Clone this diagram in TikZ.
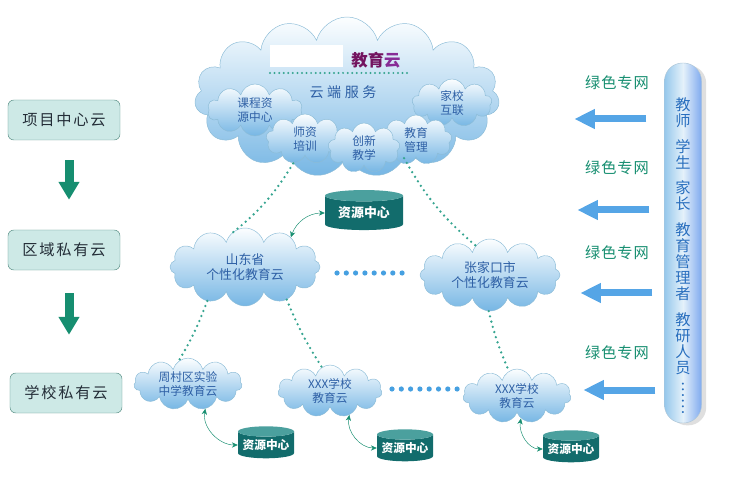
\documentclass[tikz,border=0pt]{standalone}
\usepackage{fontspec}
\setmainfont{Noto Sans CJK SC}
\usetikzlibrary{shapes.symbols,shapes.geometric,arrows.meta,shadows}
\definecolor{cloudtop}{RGB}{252,254,255}
\definecolor{cloudbot}{RGB}{118,182,228}
\definecolor{cloudline}{RGB}{140,188,215}
\definecolor{cloudtext}{RGB}{45,95,165}
\definecolor{tealdark}{RGB}{18,108,108}
\definecolor{teallight}{RGB}{75,160,158}
\definecolor{netgreen}{RGB}{22,142,112}
\definecolor{dotgreen}{RGB}{55,165,145}
\definecolor{arrowblue}{RGB}{85,165,230}
\definecolor{dotblue}{RGB}{70,160,225}
\definecolor{boxfill}{RGB}{205,233,230}
\definecolor{boxline}{RGB}{90,145,135}
\definecolor{boxtext}{RGB}{35,45,55}
\definecolor{titlepurple}{RGB}{115,20,95}
\definecolor{titleviolet}{RGB}{135,45,150}
\definecolor{pillblue}{RGB}{150,200,236}
\definecolor{pilltext}{RGB}{40,110,190}
\begin{document}
\begin{tikzpicture}[x=0.03cm,y=0.03cm,
  yun/.style={cloud, cloud puffs=#1, cloud ignores aspect, draw=cloudline,
    top color=cloudtop, bottom color=cloudbot, text=cloudtext, align=center,
    inner sep=0pt, font=\fontsize{10}{12}\selectfont},
  yun/.default=11,
  kuang/.style={draw=boxline, fill=boxfill, rounded corners=5pt, text=boxtext,
    minimum width=3.36cm, minimum height=1.2cm,
    font=\fontsize{13}{15}\selectfont\addfontfeatures{LetterSpace=12}},
  ziyuan/.style={cylinder, shape border rotate=90, aspect=0.22,
    cylinder uses custom fill, cylinder body fill=tealdark,
    cylinder end fill=teallight, text=white, inner sep=0pt,
    font=\bfseries\fontsize{10}{12}\selectfont},
  dian/.style={draw=dotgreen, line width=2.2pt, line cap=round,
    dash pattern=on 0pt off 4.6pt},
  shuang/.style={draw=netgreen, thin,
    {Stealth[length=5pt,width=4.5pt]}-{Stealth[length=5pt,width=4.5pt]}},
  xiajian/.style={draw=netgreen, line width=0.27cm,
    -{Triangle[length=0.54cm,width=0.6cm]}},
  lanjian/.style={draw=arrowblue, line width=0.21cm,
    -{Triangle[length=0.62cm,width=0.56cm]}},
  zhuanwang/.style={text=netgreen,
    font=\fontsize{13}{15}\selectfont\addfontfeatures{LetterSpace=6}}
]
\useasboundingbox (0,0) rectangle (731,-488);

% left column
\node[kuang] (xm) at (64,-120) {项目中心云};
\node[kuang] (qy) at (64,-250) {区域私有云};
\node[kuang] (xx) at (66,-393) {学校私有云};
\draw[xiajian, shorten <=0.6cm, shorten >=0.9cm] ([xshift=0.15cm]xm.south) -- ([xshift=0.15cm]qy.north);
\draw[xiajian, shorten <=0.69cm, shorten >=1.14cm] ([xshift=0.15cm]qy.south) -- ([xshift=0.09cm]xx.north);

% top cloud
\node[yun=15, minimum width=9.15cm, minimum height=4.8cm] (jyy) at (347,-97) {};
\fill[white] (270,-45) rectangle (343,-67);
\node[font=\bfseries\fontsize{14}{16}\selectfont] (biaoti) at (376,-60)
  {\textcolor{titlepurple}{教育}\textcolor{titleviolet}{云}};
\draw[dian, line width=1.9pt, dash pattern=on 0pt off 3.9pt] (270,-73) -- (410,-73);
\node[text=cloudtext, font=\fontsize{12}{14}\selectfont\addfontfeatures{LetterSpace=25}] (yd) at (343,-92) {云端服务};
\node[yun=10, minimum width=2.85cm, minimum height=1.56cm] (kc) at (255,-110) {课程资\\源中心};
\node[yun=9, minimum width=2.4cm, minimum height=1.44cm] (jx) at (452,-103) {家校\\互联};
\node[yun=9, minimum width=2.34cm, minimum height=1.5cm] (sz) at (305,-139) {师资\\培训};
\node[yun=9, minimum width=2.16cm, minimum height=1.5cm] (gl) at (416,-140) {教育\\管理};
\node[yun=9, minimum width=2.16cm, minimum height=1.5cm] (cx) at (364,-148) {创新\\教学};

% regional clouds
\node[ziyuan, minimum width=2.34cm, minimum height=1.2cm, font=\bfseries\fontsize{11}{13}\selectfont] (zy0) at (364,-213) {资源中心};
\node[yun=12, minimum width=4.5cm, minimum height=2.34cm, font=\fontsize{11}{13}\selectfont] (sd) at (245,-267) {山东省\\个性化教育云};
\node[yun=12, minimum width=4.2cm, minimum height=2.16cm, font=\fontsize{11}{13}\selectfont] (zjk) at (490,-275) {张家口市\\个性化教育云};
\foreach \i in {0,...,7}
  \fill[dotblue] (337+9.3*\i,-273) circle (2.6);

% school clouds
\node[yun=11, minimum width=3.24cm, minimum height=1.38cm] (zc) at (188,-384) {周村区实验\\中学教育云};
\node[yun=11, minimum width=3.12cm, minimum height=1.56cm] (xa) at (330,-391) {XXX学校\\教育云};
\node[yun=11, minimum width=3.24cm, minimum height=1.62cm] (xb) at (517,-396) {XXX学校\\教育云};
\foreach \i in {0,...,7}
  \fill[dotblue] (392+9.3*\i,-389) circle (2.6);
\node[ziyuan, minimum width=1.68cm, minimum height=0.96cm] (zy1) at (266,-445) {资源中心};
\node[ziyuan, minimum width=1.68cm, minimum height=0.96cm] (zy2) at (405,-448) {资源中心};
\node[ziyuan, minimum width=1.68cm, minimum height=0.96cm] (zy3) at (571,-449) {资源中心};

% links
\draw[dian] (jyy.231) to[bend left=10] (sd.115);
\draw[dian] (jyy.313) to[bend right=10] (zjk.116);
\draw[dian] (sd.222) to[bend left=5] (zc.112);
\draw[dian] (sd.322) to[bend right=5] (xa.109);
\draw[dian] (zjk.268) to[bend right=5] (xb.108);
\draw[shuang] (sd.33) to[out=70,in=180] (zy0.180);
\draw[shuang] (zc.305) to[out=-100,in=180] (zy1.180);
\draw[shuang] (xa.309) to[out=-100,in=180] (zy2.180);
\draw[shuang] (xb.280) to[out=-100,in=180] (zy3.180);

% right side
\node[draw=pillblue!80!black!60, rounded corners=0.54cm, minimum width=1.11cm, minimum height=10.8cm,
  left color=pillblue, right color=pillblue!85!blue, middle color=pillblue!25,
  drop shadow={shadow xshift=4pt, shadow yshift=-2pt, fill=black!25}] (ren) at (683,-243) {};
\node[text=pilltext, align=center, inner sep=0pt, font=\fontsize{13}{13.6}\selectfont] (renwu) at (683,-236)
  {教\\师\\[8.5pt]学\\生\\[8.5pt]家\\长\\[8.5pt]教\\育\\管\\理\\者\\[8.5pt]教\\研\\人\\员};
\node[text=pilltext, rotate=-90, font=\fontsize{13}{15}\selectfont] (sl) at (683,-398) {……};
\foreach \y/\n in {83/1,168/2,253/3,353/4}
  \node[zhuanwang] (net\n) at (617,-\y) {绿色专网};
\foreach \y/\d in {119/18,210/15,293/12,390/9}
  \draw[lanjian] (ren.west |- 0,-\y) ++(-\d,0) -- ++(-72,0) coordinate (g\y);
\end{tikzpicture}
\end{document}
